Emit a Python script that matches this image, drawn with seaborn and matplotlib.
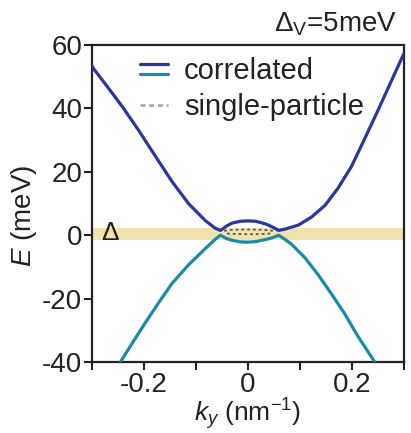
import numpy as np
import pandas as pd
import matplotlib
matplotlib.use("Agg")
import matplotlib.pyplot as plt
from matplotlib.lines import Line2D
from matplotlib.legend_handler import HandlerBase
import seaborn as sns

# ---- data ----
k_upper = [-0.300, -0.2955, -0.273, -0.241, -0.2096, -0.178, -0.146, -0.114, -0.082, -0.063,
           -0.053, -0.042, -0.031, -0.015, 0.000, 0.015, 0.033, 0.047, 0.059,
           0.071, 0.097, 0.122, 0.148, 0.173, 0.199, 0.224, 0.250, 0.275, 0.2975, 0.300]
E_upper = [53.4, 52.2, 47.4, 40.4, 32.9, 24.9, 16.9, 9.9, 4.6, 2.2,
           1.5, 2.8, 3.8, 4.4, 4.5, 4.4, 3.6, 2.6, 1.5,
           1.9, 3.2, 5.7, 9.4, 14.8, 21.7, 30.3, 39.4, 48.4, 56.5, 57.3]

k_lower = [-0.250, -0.2446, -0.222, -0.197, -0.171, -0.146, -0.114, -0.082, -0.063,
           -0.053, -0.042, -0.031, -0.015, 0.000, 0.015, 0.033, 0.047, 0.059,
           0.071, 0.084, 0.110, 0.135, 0.160, 0.186, 0.211, 0.243, 0.250]
E_lower = [-41.2, -39.8, -33.9, -27.5, -21.1, -15.2, -9.3, -4.2, -1.3,
           0.0, -1.0, -1.6, -2.1, -2.2, -2.0, -1.4, -0.8, 0.0,
           -1.3, -2.9, -7.2, -12.5, -18.4, -24.8, -31.8, -39.8, -41.5]

k_sp = [-0.046, -0.030, 0.000, 0.030, 0.048]
E_sp_upper = [1.4, 1.7, 1.8, 1.7, 1.4]
E_sp_lower = [0.6, 0.4, 0.3, 0.4, 0.6]

gap_band = (-1.4, 2.4)
x_ticks = [-0.3, -0.2, -0.1, 0.0, 0.1, 0.2, 0.3]
x_ticklabels = ["", "-0.2", "", "0", "", "0.2", ""]
y_ticks = [-40, -20, 0, 20, 40, 60]

BLUE = "#2a379b"
TEAL = "#1b8aa6"
GRAY_SP = "#5e5c4c"
INK = "#222222"

sns.set_theme(style="ticks")
plt.rcParams["font.family"] = ["Liberation Sans", "DejaVu Sans"]
plt.rcParams["mathtext.fontset"] = "custom"
plt.rcParams["mathtext.rm"] = "Liberation Sans"
plt.rcParams["mathtext.it"] = "Liberation Sans:italic"
plt.rcParams["mathtext.bf"] = "Liberation Sans:bold"

fig = plt.figure(figsize=(4.11, 4.33), dpi=100)
ax = fig.add_axes([92/411, 1-362/433, (404-92)/411, (362-45)/433])

ax.axhspan(gap_band[0], gap_band[1], color="#f0e3af", lw=0, zorder=0)

df_u = pd.DataFrame({"k": k_upper, "E": E_upper})
df_l = pd.DataFrame({"k": k_lower, "E": E_lower})
sns.lineplot(data=df_l, x="k", y="E", sort=False, color=TEAL, lw=2.3, ax=ax, zorder=3)
sns.lineplot(data=df_u, x="k", y="E", sort=False, color=BLUE, lw=2.3, ax=ax, zorder=4)
df_spu = pd.DataFrame({"k": k_sp, "E": E_sp_upper})
df_spl = pd.DataFrame({"k": k_sp, "E": E_sp_lower})
sns.lineplot(data=df_spu, x="k", y="E", sort=False, color=GRAY_SP, lw=1.3,
             ax=ax, zorder=2, linestyle=(0, (1.6, 1.6)))
sns.lineplot(data=df_spl, x="k", y="E", sort=False, color=GRAY_SP, lw=1.3,
             ax=ax, zorder=2, linestyle=(1.6, (1.6, 1.6)))

ax.set_xlim(-0.3, 0.3)
ax.set_ylim(-40, 60)
ax.set_xticks(x_ticks)
ax.set_xticklabels(x_ticklabels)
ax.set_yticks(y_ticks)
ax.set_yticklabels([str(v) for v in y_ticks])
ax.tick_params(direction="out", length=5.5, width=1.5, labelsize=20, pad=1.5, color=INK,
               labelcolor=INK)
for s in ax.spines.values():
    s.set_visible(True)
    s.set_linewidth(1.6)
    s.set_color(INK)

ax.set_xlabel(r"$k_y$ (nm$^{\mathregular{-1}}$)", fontsize=19, labelpad=-1, color=INK)
ax.set_ylabel(r"$E$ (meV)", fontsize=20, labelpad=0, color=INK)
ax.yaxis.set_label_coords(-0.17, 0.46)

ax.text(-0.264, 0.6, r"$\mathregular{\Delta}$", fontsize=19, ha="center", va="center",
        color="#2a1e0a", zorder=5)

fig.text(397/411, 1-32/433, r"$\mathregular{\Delta_V}$=5meV", fontsize=20,
         ha="right", va="baseline", color=INK)


class TwoLineHandler(HandlerBase):
    def create_artists(self, legend, orig_handle, xdescent, ydescent, width, height,
                       fontsize, trans):
        yc = 0.5 * height - ydescent
        d = 3.4
        l1 = Line2D([-xdescent, width - xdescent], [yc + d, yc + d], color=BLUE, lw=2.3)
        l2 = Line2D([-xdescent, width - xdescent], [yc - d, yc - d], color=TEAL, lw=2.3)
        l1.set_transform(trans)
        l2.set_transform(trans)
        return [l1, l2]


h_corr = Line2D([], [], color=BLUE)
h_sp = Line2D([], [], color="#a0a0a0", lw=1.8, linestyle=(0, (2, 1.5)))
leg = ax.legend([h_corr, h_sp], ["correlated", "single-particle"],
                handler_map={h_corr: TwoLineHandler()},
                loc="upper left", bbox_to_anchor=(0.154, 0.962), frameon=False,
                fontsize=21, handlelength=0.95, handletextpad=0.55, labelspacing=0.27,
                borderaxespad=0, borderpad=0)
for t in leg.get_texts():
    t.set_color(INK)

fig.savefig("out.png", dpi=100)
